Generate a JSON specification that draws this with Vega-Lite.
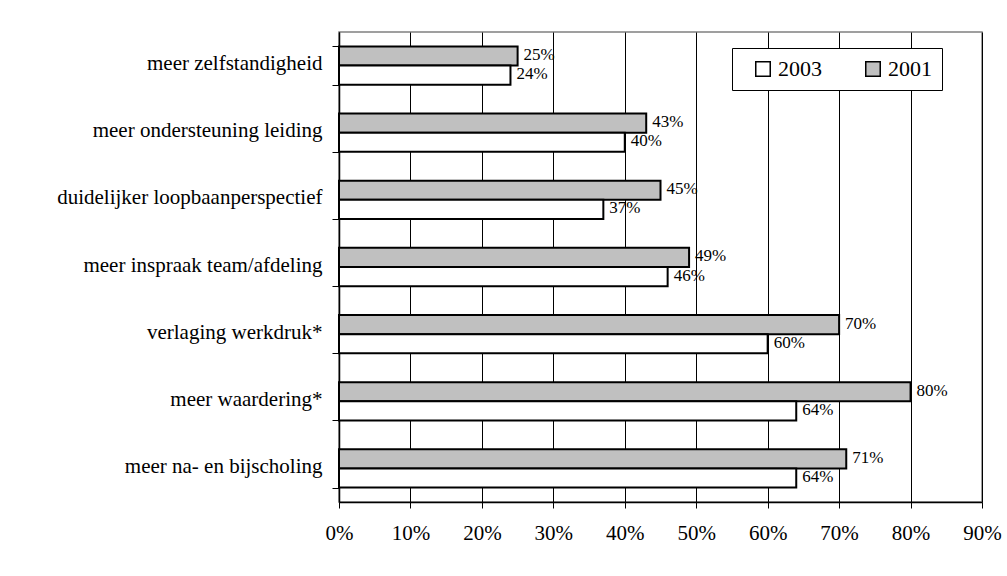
{
  "$schema": "https://vega.github.io/schema/vega-lite/v6.json",
  "autosize": {"type": "none"},
  "width": 643,
  "height": 470,
  "padding": {"left": 339, "top": 32, "right": 25, "bottom": 74},
  "background": "white",
  "config": {
    "font": "Liberation Serif",
    "view": {"stroke": "#808080", "strokeWidth": 1.5}
  },
  "data": {
    "values": [
      {"item": "meer zelfstandigheid", "jaar": "2001", "aandeel": 0.25},
      {"item": "meer zelfstandigheid", "jaar": "2003", "aandeel": 0.24},
      {"item": "meer ondersteuning leiding", "jaar": "2001", "aandeel": 0.43},
      {"item": "meer ondersteuning leiding", "jaar": "2003", "aandeel": 0.40},
      {"item": "duidelijker loopbaanperspectief", "jaar": "2001", "aandeel": 0.45},
      {"item": "duidelijker loopbaanperspectief", "jaar": "2003", "aandeel": 0.37},
      {"item": "meer inspraak team/afdeling", "jaar": "2001", "aandeel": 0.49},
      {"item": "meer inspraak team/afdeling", "jaar": "2003", "aandeel": 0.46},
      {"item": "verlaging werkdruk*", "jaar": "2001", "aandeel": 0.70},
      {"item": "verlaging werkdruk*", "jaar": "2003", "aandeel": 0.60},
      {"item": "meer waardering*", "jaar": "2001", "aandeel": 0.80},
      {"item": "meer waardering*", "jaar": "2003", "aandeel": 0.64},
      {"item": "meer na- en bijscholing", "jaar": "2001", "aandeel": 0.71},
      {"item": "meer na- en bijscholing", "jaar": "2003", "aandeel": 0.64}
    ]
  },
  "encoding": {
    "y": {
      "field": "item",
      "type": "nominal",
      "sort": null,
      "scale": {"paddingInner": 0.43, "paddingOuter": 0.215},
      "axis": {
        "title": null,
        "tickBand": "extent",
        "tickSize": 7,
        "tickColor": "black",
        "domainColor": "black",
        "domainWidth": 1.5,
        "labelFont": "Liberation Serif",
        "labelFontSize": 21,
        "labelColor": "black",
        "labelPadding": 10,
        "labelOffset": -2,
        "labelLimit": 400
      }
    },
    "yOffset": {
      "field": "jaar",
      "type": "nominal",
      "scale": {"domain": ["2001", "2003"], "paddingInner": 0, "paddingOuter": 0}
    },
    "x": {
      "field": "aandeel",
      "type": "quantitative",
      "scale": {"domain": [0, 0.9], "nice": false},
      "axis": {
        "title": null,
        "format": ".0%",
        "values": [0, 0.1, 0.2, 0.3, 0.4, 0.5, 0.6, 0.7, 0.8, 0.9],
        "grid": true,
        "gridColor": "black",
        "gridWidth": 1,
        "gridOpacity": 1,
        "tickSize": 6,
        "tickColor": "black",
        "domainColor": "black",
        "domainWidth": 1.5,
        "labelFont": "Liberation Serif",
        "labelFontSize": 21,
        "labelColor": "black",
        "labelPadding": 14,
        "labelFlush": false
      }
    }
  },
  "layer": [
    {
      "mark": {"type": "bar", "stroke": "black", "strokeWidth": 2},
      "encoding": {
        "color": {
          "field": "jaar",
          "type": "nominal",
          "scale": {"domain": ["2003", "2001"], "range": ["white", "#C0C0C0"]},
          "legend": {
            "title": null,
            "orient": "none",
            "legendX": 393,
            "legendY": 16,
            "direction": "horizontal",
            "symbolType": "square",
            "symbolSize": 210,
            "symbolStrokeColor": "black",
            "symbolStrokeWidth": 1.5,
            "symbolOffset": 10,
            "labelFont": "Liberation Serif",
            "labelFontSize": 22,
            "labelColor": "black",
            "labelOffset": 4,
            "columnPadding": 30,
            "padding": 10,
            "strokeColor": "black",
            "fillColor": "white"
          }
        }
      }
    },
    {
      "mark": {
        "type": "text",
        "align": "left",
        "baseline": "middle",
        "dx": 6,
        "dy": -1,
        "font": "Liberation Serif",
        "fontSize": 17,
        "color": "black"
      },
      "encoding": {
        "text": {"field": "aandeel", "type": "quantitative", "format": ".0%"}
      }
    }
  ]
}
